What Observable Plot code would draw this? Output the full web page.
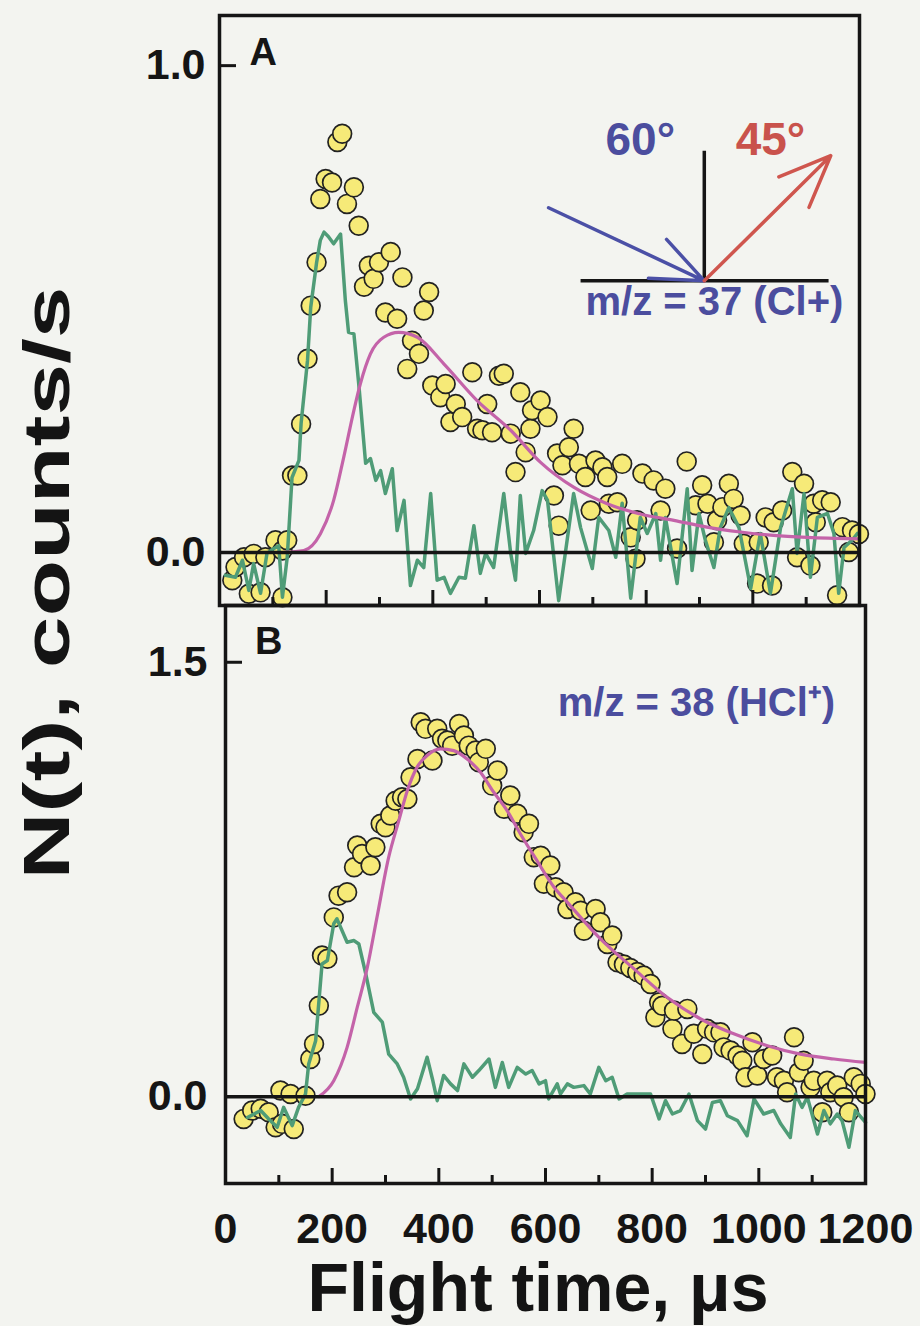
<!DOCTYPE html>
<html><head><meta charset="utf-8">
<script src="https://cdn.jsdelivr.net/npm/d3@7"></script>
<script src="https://cdn.jsdelivr.net/npm/@observablehq/plot@0.6"></script>
<style>
html,body{margin:0;padding:0;background:#f3f4f0;overflow:hidden;}
#fig{position:relative;width:920px;height:1326px;font-family:"Liberation Sans",Arial,sans-serif;font-weight:bold;color:#141414;}
#fig svg{position:absolute;left:0;}
.ytitle{position:absolute;left:47px;top:583px;font-size:64px;line-height:64px;white-space:nowrap;transform:translate(-50%,-50%) rotate(-90deg) scaleX(1.45);}
.xtitle{position:absolute;left:538px;top:1253px;font-size:68px;line-height:68px;white-space:nowrap;transform:translateX(-50%);}
</style></head><body><div id="fig"></div><script>
// ---------- data (flight time in µs, N(t) in counts/s) ----------
const xTickLabels = [0, 200, 400, 600, 800, 1000, 1200];
const xMinorTicks = [100, 300, 500, 700, 900, 1100];
const xMajorTicks = [200, 400, 600, 800, 1000];
const yTicksA = [0, 1.0];
const yTicksB = [0, 1.5];

const dotsA = [[24,-0.057],[30,-0.030],[46,-0.010],[55,-0.085],[64,-0.003],[77,-0.082],[86,-0.010],[105,0.025],[118,0.004],[118,-0.092],
[127,0.025],[136,0.158],[146,0.158],[153,0.264],[165,0.398],[171,0.507],[182,0.596],[189,0.726],[199,0.767],[211,0.760],
[221,0.843],[230,0.860],[239,0.716],[252,0.750],[261,0.671],[271,0.546],[280,0.589],[289,0.562],[299,0.596],[311,0.493],
[321,0.617],[333,0.480],[343,0.565],[352,0.377],[361,0.435],[374,0.408],[383,0.497],[393,0.535],[399,0.343],[414,0.319],
[424,0.346],[433,0.268],[443,0.305],[455,0.278],[474,0.370],[483,0.254],[493,0.251],[502,0.305],[511,0.247],[524,0.363],
[533,0.367],[546,0.244],[555,0.165],[564,0.329],[574,0.206],[583,0.254],[586,0.292],[602,0.312],[615,0.278],[627,0.117],
[633,0.203],[636,0.055],[643,0.179],[655,0.216],[664,0.254],[674,0.182],[686,0.155],[696,0.086],[705,0.189],[718,0.175],
[727,0.155],[730,0.100],[746,0.103],[755,0.182],[771,0.031],[780,-0.013],[783,0.066],[793,0.162],[814,0.148],[827,0.086],
[836,0.131],[858,0.008],[876,0.187],[893,0.097],[905,0.138],[915,0.100],[927,0.021],[933,0.066],[943,0.093],[955,0.141],
[964,0.110],[977,0.076],[983,0.018],[1008,-0.064],[1011,0.021],[1024,0.072],[1036,-0.068],[1039,0.062],[1055,0.086],[1074,0.165],
[1083,-0.010],[1096,0.141],[1108,-0.027],[1114,0.100],[1118,0.062],[1130,0.107],[1146,0.103],[1158,-0.088],[1168,0.052],[1180,0.001],
[1186,0.045],[1199,0.038]];

const traceA = [[11,-0.047],[30,-0.051],[43,-0.016],[55,-0.078],[64,-0.023],[77,-0.084],[89,-0.002],[102,0.008],[111,0.014],[118,-0.092],
[127,-0.010],[136,0.154],[149,0.189],[153,0.265],[165,0.394],[171,0.503],[182,0.595],[189,0.641],[196,0.658],[204,0.649],
[214,0.634],[227,0.654],[236,0.517],[242,0.452],[252,0.449],[261,0.347],[274,0.183],[283,0.193],[293,0.148],[302,0.168],
[311,0.121],[324,0.172],[333,0.045],[346,0.107],[358,-0.068],[371,-0.016],[383,-0.031],[396,0.121],[408,-0.057],[421,-0.051],
[433,-0.084],[449,-0.051],[461,-0.053],[477,0.055],[489,-0.043],[499,-0.002],[514,-0.031],[533,0.121],[546,-0.002],[555,-0.057],
[564,0.117],[574,-0.002],[589,0.045],[605,0.127],[615,0.107],[636,-0.099],[664,0.121],[677,0.051],[699,-0.033],[711,0.072],
[730,0.045],[743,-0.010],[755,0.101],[771,-0.094],[789,0.072],[802,0.039],[818,0.080],[827,-0.016],[836,0.072],[846,0.010],
[858,-0.064],[877,0.131],[886,-0.037],[899,0.080],[911,0.025],[927,-0.031],[939,0.051],[955,0.092],[974,0.051],[996,-0.074],
[1014,0.039],[1033,-0.084],[1052,0.051],[1074,0.131],[1083,-0.002],[1096,0.121],[1108,-0.051],[1121,0.072],[1140,0.080],[1152,0.039],
[1161,-0.084],[1171,0.010],[1186,0.025],[1196,0.039]];

const fitA = [[120,0],[158,0.004],[189,0.038],[214,0.107],[233,0.196],[252,0.292],[264,0.346],[283,0.408],[308,0.442],[336,0.452],
[371,0.442],[421,0.387],[483,0.312],[546,0.251],[602,0.185],[664,0.134],[727,0.100],[789,0.079],[852,0.066],[914,0.052],
[977,0.042],[1039,0.035],[1102,0.031],[1196,0.028]];

const dotsB = [[34,-0.077],[50,-0.048],[66,-0.042],[81,-0.054],[94,-0.106],[103,0.021],[106,-0.094],[122,0.009],[128,-0.112],[150,0.003],
[159,0.130],[166,0.182],[175,0.314],[181,0.487],[191,0.476],[203,0.619],[212,0.694],[228,0.706],[241,0.792],[247,0.867],
[256,0.838],[272,0.798],[281,0.861],[291,0.942],[300,0.930],[309,0.971],[319,1.022],[331,1.034],[341,1.028],[347,1.103],
[360,1.166],[366,1.293],[375,1.270],[388,1.161],[397,1.270],[406,1.236],[416,1.230],[425,1.212],[438,1.287],[447,1.247],
[456,1.212],[469,1.195],[475,1.155],[488,1.201],[500,1.074],[510,1.126],[522,0.994],[534,1.040],[547,0.977],[559,0.913],
[569,0.942],[578,0.827],[591,0.832],[597,0.735],[609,0.798],[619,0.723],[634,0.706],[641,0.648],[656,0.671],[666,0.642],
[672,0.573],[694,0.648],[703,0.602],[716,0.527],[725,0.556],[735,0.464],[747,0.456],[759,0.444],[772,0.430],[784,0.418],
[797,0.389],[806,0.274],[813,0.326],[819,0.314],[838,0.234],[841,0.297],[856,0.182],[866,0.303],[878,0.217],[894,0.147],
[903,0.234],[916,0.222],[928,0.222],[934,0.170],[947,0.159],[960,0.142],[969,0.124],[975,0.067],[988,0.188],[997,0.073],
[1009,0.130],[1025,0.142],[1034,0.067],[1047,0.055],[1053,0.015],[1066,0.205],[1075,0.084],[1084,0.124],[1097,0.032],[1103,0.055],
[1119,-0.054],[1128,0.055],[1134,0.015],[1147,0.038],[1159,-0.002],[1169,-0.054],[1178,0.067],[1191,0.044],[1200,0.009]];

const traceB = [[41,-0.072],[66,-0.048],[81,-0.077],[97,-0.106],[109,-0.037],[125,-0.100],[137,-0.037],[150,0.009],[156,0.113],[169,0.193],
[181,0.458],[191,0.470],[203,0.597],[209,0.614],[228,0.533],[241,0.539],[250,0.527],[263,0.424],[278,0.291],[294,0.257],
[306,0.147],[322,0.113],[334,0.067],[347,-0.008],[360,0.027],[378,0.136],[388,0.061],[397,-0.014],[409,0.073],[422,0.044],
[435,0.021],[447,0.113],[463,0.067],[475,0.090],[494,0.130],[506,0.032],[519,0.118],[531,0.032],[547,0.101],[563,0.078],
[575,0.090],[588,0.044],[600,0.055],[606,-0.008],[622,0.044],[628,0.009],[641,0.044],[653,0.032],[672,0.038],[684,0.009],
[700,0.101],[713,0.055],[725,0.067],[738,-0.008],[753,0.009],[778,0.009],[797,0.009],[813,-0.077],[825,-0.014],[838,-0.060],
[853,-0.048],[869,0.009],[885,-0.083],[900,-0.112],[913,-0.020],[928,-0.014],[941,-0.066],[960,-0.083],[978,-0.135],[991,-0.008],
[1009,-0.060],[1028,-0.048],[1041,-0.094],[1059,-0.141],[1069,0.009],[1081,-0.037],[1091,-0.002],[1110,-0.129],[1122,-0.048],[1134,-0.094],
[1147,-0.060],[1156,-0.083],[1169,-0.175],[1181,-0.048],[1200,-0.089]];

const fitB = [[175,0],[203,0.055],[228,0.170],[247,0.308],[266,0.447],[284,0.619],[306,0.827],[325,0.953],[341,1.057],[359,1.137],
[378,1.178],[403,1.201],[428,1.195],[453,1.166],[478,1.120],[503,1.051],[528,0.988],[553,0.907],[584,0.815],[616,0.723],
[641,0.671],[703,0.545],[766,0.441],[828,0.343],[891,0.268],[953,0.217],[1016,0.176],[1078,0.147],[1141,0.130],[1200,0.118]];

// ---------- annotation layout (data units) ----------
const insetLines = [{x1:677,y1:0.558,x2:1142,y2:0.558},{x1:909,y1:0.558,x2:909,y2:0.825}];
const insetArrows = [{x1:617,y1:0.708,x2:909,y2:0.558,c:"#4b50a6"},{x1:909,y1:0.558,x2:1146,y2:0.815,c:"#cf564e"}];
const angleLabels = [{x:789,y:0.846,s:"60°",c:"#4b4d9e"},{x:1033,y:0.846,s:"45°",c:"#c9524c"}];

// ---------- styles ----------
const C = {green:"#4f9c77", fit:"#c463a9", dotFill:"#f6ea78", ink:"#151515", blue:"#4b4d9e"};
const font = "Liberation Sans, Arial, sans-serif";
const rows = a => a.map(([t,n]) => ({t, n}));

function panelMarks(dots, trace, fit, w, h, yTick) {
  return [
    Plot.dot(rows(dots), {x:"t", y:"n", r:9.4, fill:C.dotFill, stroke:"#222", strokeWidth:1.7}),
    Plot.line(rows(trace), {x:"t", y:"n", stroke:C.green, strokeWidth:3.5, strokeLinejoin:"round"}),
    Plot.line(rows(fit), {x:"t", y:"n", stroke:C.fit, strokeWidth:3.2, curve:"monotone-x"}),
    Plot.ruleY([0], {stroke:C.ink, strokeWidth:3.5}),
    Plot.ruleX(xMajorTicks, {stroke:C.ink, strokeWidth:3, insetTop:h-15}),
    Plot.ruleX(xMinorTicks, {stroke:C.ink, strokeWidth:3, insetTop:h-8}),
    Plot.ruleY([yTick], {stroke:C.ink, strokeWidth:3, insetRight:w-17}),
    Plot.frame({stroke:C.ink, strokeWidth:3.5})
  ];
}

// Panel A
const A = {width:920, height:620, mt:15, mb:15, ml:219, mr:61};
const wA = A.width-A.ml-A.mr, hA = A.height-A.mt-A.mb;
const plotA = Plot.plot({
  width:A.width, height:A.height, marginTop:A.mt, marginBottom:A.mb, marginLeft:A.ml, marginRight:A.mr,
  style:{background:"transparent", fontFamily:font, fontWeight:"bold", color:C.ink, overflow:"visible"},
  x:{domain:[0,1200], axis:null},
  y:{domain:[-0.109,1.103]},
  marks:[
    ...panelMarks(dotsA, traceA, fitA, wA, hA, 1.0),
    Plot.axisY({ticks:yTicksA, tickFormat:d3.format(".1f"), tickSize:0, tickPadding:14, fontSize:43, fontWeight:"bold", label:null}),
    Plot.link(insetLines, {x1:"x1", y1:"y1", x2:"x2", y2:"y2", stroke:C.ink, strokeWidth:3.5}),
    Plot.arrow(insetArrows, {x1:"x1", y1:"y1", x2:"x2", y2:"y2", stroke:"c", strokeWidth:3.5, headLength:24, headAngle:45}),
    Plot.text(angleLabels, {x:"x", y:"y", text:"s", fill:"c", fontSize:46, fontWeight:"bold"}),
    Plot.text(["m/z = 37 (Cl+)"], {x:928, y:0.515, fill:C.blue, fontSize:40, fontWeight:"bold"}),
    Plot.text(["A"], {x:82, y:1.027, fill:C.ink, fontSize:38, fontWeight:"bold"})
  ]
});
plotA.style.top = "0px";

// Panel B
const B = {width:920, height:736, mt:15, mb:143, ml:225, mr:55};
const wB = B.width-B.ml-B.mr, hB = B.height-B.mt-B.mb;
const plotB = Plot.plot({
  width:B.width, height:B.height, marginTop:B.mt, marginBottom:B.mb, marginLeft:B.ml, marginRight:B.mr,
  style:{background:"transparent", fontFamily:font, fontWeight:"bold", color:C.ink, overflow:"visible"},
  x:{domain:[0,1200]},
  y:{domain:[-0.30,1.696]},
  marks:[
    ...panelMarks(dotsB, traceB, fitB, wB, hB, 1.5),
    Plot.axisY({ticks:yTicksB, tickFormat:d3.format(".1f"), tickSize:0, tickPadding:18, fontSize:43, fontWeight:"bold", label:null}),
    Plot.axisX({ticks:xTickLabels, tickFormat:d => String(d), tickSize:0, tickPadding:29, fontSize:43, fontWeight:"bold", label:null}),
    Plot.text(["m/z = 38 (HCl⁺)"], {x:883, y:1.357, fill:C.blue, fontSize:40, fontWeight:"bold"}),
    Plot.text(["B"], {x:81, y:1.572, fill:C.ink, fontSize:38, fontWeight:"bold"})
  ]
});
plotB.style.top = "590px";

const fig = document.getElementById("fig");
fig.append(plotA, plotB);
const yt = document.createElement("div"); yt.className = "ytitle"; yt.textContent = "N(t), counts/s"; fig.append(yt);
const xt = document.createElement("div"); xt.className = "xtitle"; xt.textContent = "Flight time, μs"; fig.append(xt);
</script></body></html>
